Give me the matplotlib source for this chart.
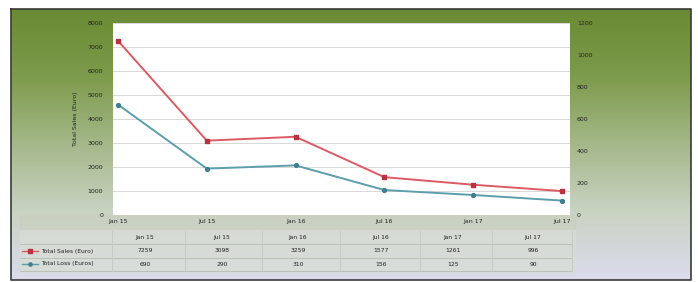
import numpy as np
import matplotlib
matplotlib.use('Agg')
import matplotlib.pyplot as plt
from matplotlib.colors import LinearSegmentedColormap

# chart data
periods = ['Jan 15', 'Jul 15', 'Jan 16', 'Jul 16', 'Jan 17', 'Jul 17']
sales = [7259, 3098, 3259, 1577, 1261, 996]
loss = [690, 290, 310, 156, 125, 90]
sales_label = 'Total Sales (Euro)'
loss_label = 'Total Loss (Euros)'

W, H = 698, 282
red = '#dc5a64'
red_mk = '#b8323f'
blue = '#5c9eac'
blue_mk = '#3f7f8f'
txt = '#222222'


def fx(px):
    return px / W


def fy(py):
    return 1 - py / H


fig = plt.figure(figsize=(W / 100, H / 100), dpi=100)
fig.patch.set_facecolor('white')

# background panel with green gradient
bg = fig.add_axes([0, 0, 1, 1])
bg.set_xlim(0, W)
bg.set_ylim(H, 0)
bg.axis('off')
cmap = LinearSegmentedColormap.from_list(
    'bg', ['#6a8a34', '#7d9c4c', '#a5b88a', '#c9d3c2', '#dadcec'])
grad = np.linspace(0, 1, 200)[:, None] * np.ones((1, 50))
bg.imshow(grad, cmap=cmap, aspect='auto', extent=[11, 691, 280, 9],
          interpolation='bicubic', zorder=0)
bg.plot([11, 691, 691, 11, 11], [9, 9, 280, 280, 9], color='#3a3a3a', lw=1.2,
        zorder=5)

# category strip and table area
bg.add_patch(plt.Rectangle((20, 215), 555, 15, color='#c9d0c0', alpha=0.7,
                           zorder=1))
bg.add_patch(plt.Rectangle((20, 230), 555, 42, color='#d8ddd6', alpha=0.8,
                           zorder=1))
for yy in [244, 258, 271]:
    bg.plot([20, 572], [yy, yy], color='#b4bcb4', lw=0.6, zorder=2)
for xx in [112, 185, 262, 340, 420, 492, 572]:
    bg.plot([xx, xx], [231, 271], color='#c2c8c2', lw=0.6, zorder=2)

# main plot
ax = fig.add_axes([fx(113), fy(215), fx(570 - 113), (215 - 23) / H])
ax.set_facecolor('white')
x = np.arange(len(periods))
ax.plot(x, sales, color=red, lw=1.4, marker='s', ms=3.2,
        mfc=red_mk, mec=red_mk, zorder=3)
ax.set_xlim(-0.056, 5.09)
ax.set_ylim(0, 8000)
ax.set_yticks(range(0, 8001, 1000))
ax.yaxis.grid(True, color='#d8d8d8', lw=0.7)
ax.set_axisbelow(True)
ax.set_xticks(x)
ax.set_xticklabels(periods)
ax.tick_params(axis='y', length=0, labelsize=4.5, colors=txt, pad=7)
ax.tick_params(axis='x', length=0, labelsize=4.5, colors=txt, pad=3)
for s in ax.spines.values():
    s.set_visible(False)
ax.set_ylabel(sales_label, fontsize=4.5, color=txt, labelpad=7)

ax2 = ax.twinx()
ax2.plot(x, loss, color=blue, lw=1.4, marker='o', ms=2.8,
         mfc=blue_mk, mec=blue_mk, zorder=3)
ax2.set_ylim(0, 1200)
ax2.set_yticks(range(0, 1201, 200))
ax2.tick_params(axis='y', length=0, labelsize=4.5, colors=txt, pad=5)
for s in ax2.spines.values():
    s.set_visible(False)

# data table below the chart
col_x = [145, 222, 298, 381, 453, 533]
for cx, p, sv, lv in zip(col_x, periods, sales, loss):
    fig.text(fx(cx), fy(238), p, fontsize=4.3, color=txt, ha='center', va='center')
    fig.text(fx(cx), fy(251), str(sv), fontsize=4.3, color=txt, ha='center', va='center')
    fig.text(fx(cx), fy(264), str(lv), fontsize=4.3, color=txt, ha='center', va='center')

bg.plot([22, 38], [251, 251], color=red, lw=1.0, zorder=3)
bg.plot([30], [251], marker='s', ms=2.5, color=red_mk, zorder=4)
bg.plot([22, 38], [264, 264], color=blue, lw=1.0, zorder=3)
bg.plot([30], [264], marker='o', ms=2.3, color=blue_mk, zorder=4)
fig.text(fx(41), fy(251), sales_label, fontsize=4.3, color=txt, va='center')
fig.text(fx(41), fy(264), loss_label, fontsize=4.3, color=txt, va='center')

fig.savefig('out.png', dpi=100)
